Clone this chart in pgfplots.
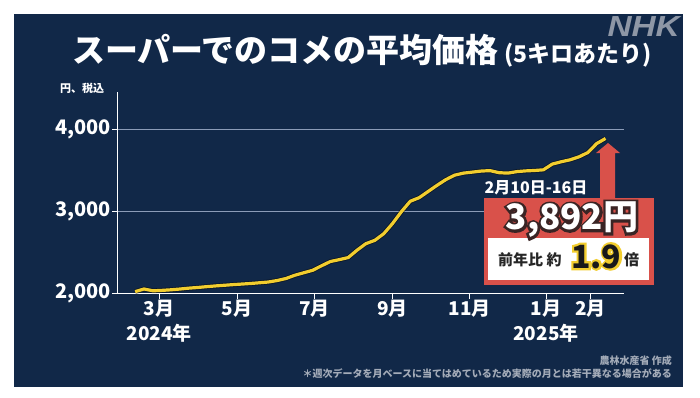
\documentclass[border=0pt]{standalone}
\usepackage{pgfplots}
\usepackage{pgfplotstable}
\pgfplotsset{compat=1.18}
\usepackage{fontspec}
\setmainfont{Noto Sans CJK JP}
\newfontfamily\jpout[FakeBold=14]{Noto Sans CJK JP}
\newfontfamily\nhkfont{Liberation Sans}
\definecolor{navy}{HTML}{112848}
\definecolor{lineyel}{HTML}{F2CD2E}
\definecolor{gridc}{HTML}{8C9CB8}
\definecolor{redbox}{HTML}{D9514A}
\definecolor{foot}{HTML}{A3ABB8}
\definecolor{nhkgray}{HTML}{8E97A6}
\definecolor{darkout}{HTML}{3A2424}
\pgfplotstableread{
w v
0 2025
1 2057
2 2035
3 2040
4 2047
5 2056
6 2067
7 2075
8 2085
9 2094
10 2102
11 2110
12 2117
13 2124
14 2133
15 2142
16 2160
17 2185
18 2225
19 2255
20 2285
21 2340
22 2392
23 2415
24 2440
25 2530
26 2610
27 2650
28 2730
29 2855
30 3000
31 3127
32 3170
33 3245
34 3320
35 3390
36 3445
37 3470
38 3482
39 3495
40 3500
41 3475
42 3470
43 3488
44 3497
45 3502
46 3510
47 3580
48 3608
49 3632
50 3668
51 3720
52 3830
53 3892
}\ricedata
\begin{document}
\begin{tikzpicture}[x=1pt,y=1pt]
\fill[white] (0,0) rectangle (700,397);
\fill[navy] (14,10) rectangle (683,383);
\begin{axis}[
  at={(132,126)}, anchor=south west,
  scale only axis, width=507pt, height=202pt,
  xmin=-2.03, xmax=55.1, ymin=2000, ymax=4463,
  axis x line*=bottom, axis y line*=left,
  axis line style={white, line width=1pt},
  tick align=outside,
  major tick length=5pt,
  tick style={white, line width=1pt},
  xtick={2.7,11.5,20.2,29.0,37.7,46.3,51.3},
  xticklabels={{3月\\2024年},5月,7月,9月,11月,{1月\\2025年},2月},
  xticklabel style={align=center, text=white, font=\fontsize{19}{25}\selectfont\bfseries, inner sep=1pt},
  ytick={2000,3000,4000},
  yticklabel style={text=white, font=\fontsize{20}{20}\selectfont\bfseries, inner sep=1pt},
  /pgf/number format/.cd, 1000 sep={,}, assume math mode=true,
  /pgfplots/.cd,
  ymajorgrids,
  grid style={gridc, line width=1pt},
  clip=false,
]
\addplot[black, opacity=0.45, line width=4.8pt, line join=round] table[x=w,y=v]{\ricedata};
\addplot[lineyel, line width=3.2pt, line join=round] table[x=w,y=v]{\ricedata};
\end{axis}
% title
\node[anchor=base west, white, inner sep=0] at (72,334)
  {\fontsize{33}{33}\selectfont\bfseries スーパーでのコメの平均価格\,{\fontsize{23}{23}\selectfont (5キロあたり)}};
\node[anchor=north east, nhkgray, inner sep=0, xscale=1.15] at (680,381)
  {\nhkfont\fontsize{29}{29}\selectfont\bfseries\itshape NHK};
\node[white, inner sep=0] at (82,309) {\fontsize{11}{11}\selectfont\bfseries 円、税込};
% footnote
\node[anchor=base east, foot, inner sep=0] at (672,33) {\fontsize{10}{10}\selectfont\bfseries 農林水産省 作成};
\node[anchor=base east, foot, inner sep=0] at (672,20) {\fontsize{10}{10}\selectfont\bfseries ＊週次データを月ベースに当てはめているため実際の月とは若干異なる場合がある};
% annotation
\fill[redbox] (600,199) -- (600,244) -- (596,244) -- (608,254) -- (620,244) -- (615,244) -- (615,199) -- cycle;
\fill[redbox] (484,112) rectangle (654,199);
\fill[white] (488,117) rectangle (649,159);
\node[white, inner sep=0] at (536,209) {\fontsize{16}{16}\selectfont\bfseries 2月10日-16日};
\node[darkout, inner sep=0] at (572,177) {\jpout\fontsize{35}{35}\selectfont\bfseries 3,892円};
\node[white, inner sep=0] at (572,177) {\fontsize{35}{35}\selectfont\bfseries 3,892円};
\node[anchor=base west, black!85, inner sep=0] at (498,132) {\fontsize{15}{15}\selectfont\bfseries 前年比 約};
\node[anchor=base west, lineyel, inner sep=0] at (571,129) {\jpout\fontsize{32}{32}\selectfont\bfseries 1.9};
\node[anchor=base west, black!90, inner sep=0] at (571,129) {\fontsize{32}{32}\selectfont\bfseries 1.9};
\node[anchor=base west, black!85, inner sep=0] at (624,132) {\fontsize{15}{15}\selectfont\bfseries 倍};
\pgfresetboundingbox
\useasboundingbox (0,0) rectangle (700,397);
\end{tikzpicture}
\end{document}
